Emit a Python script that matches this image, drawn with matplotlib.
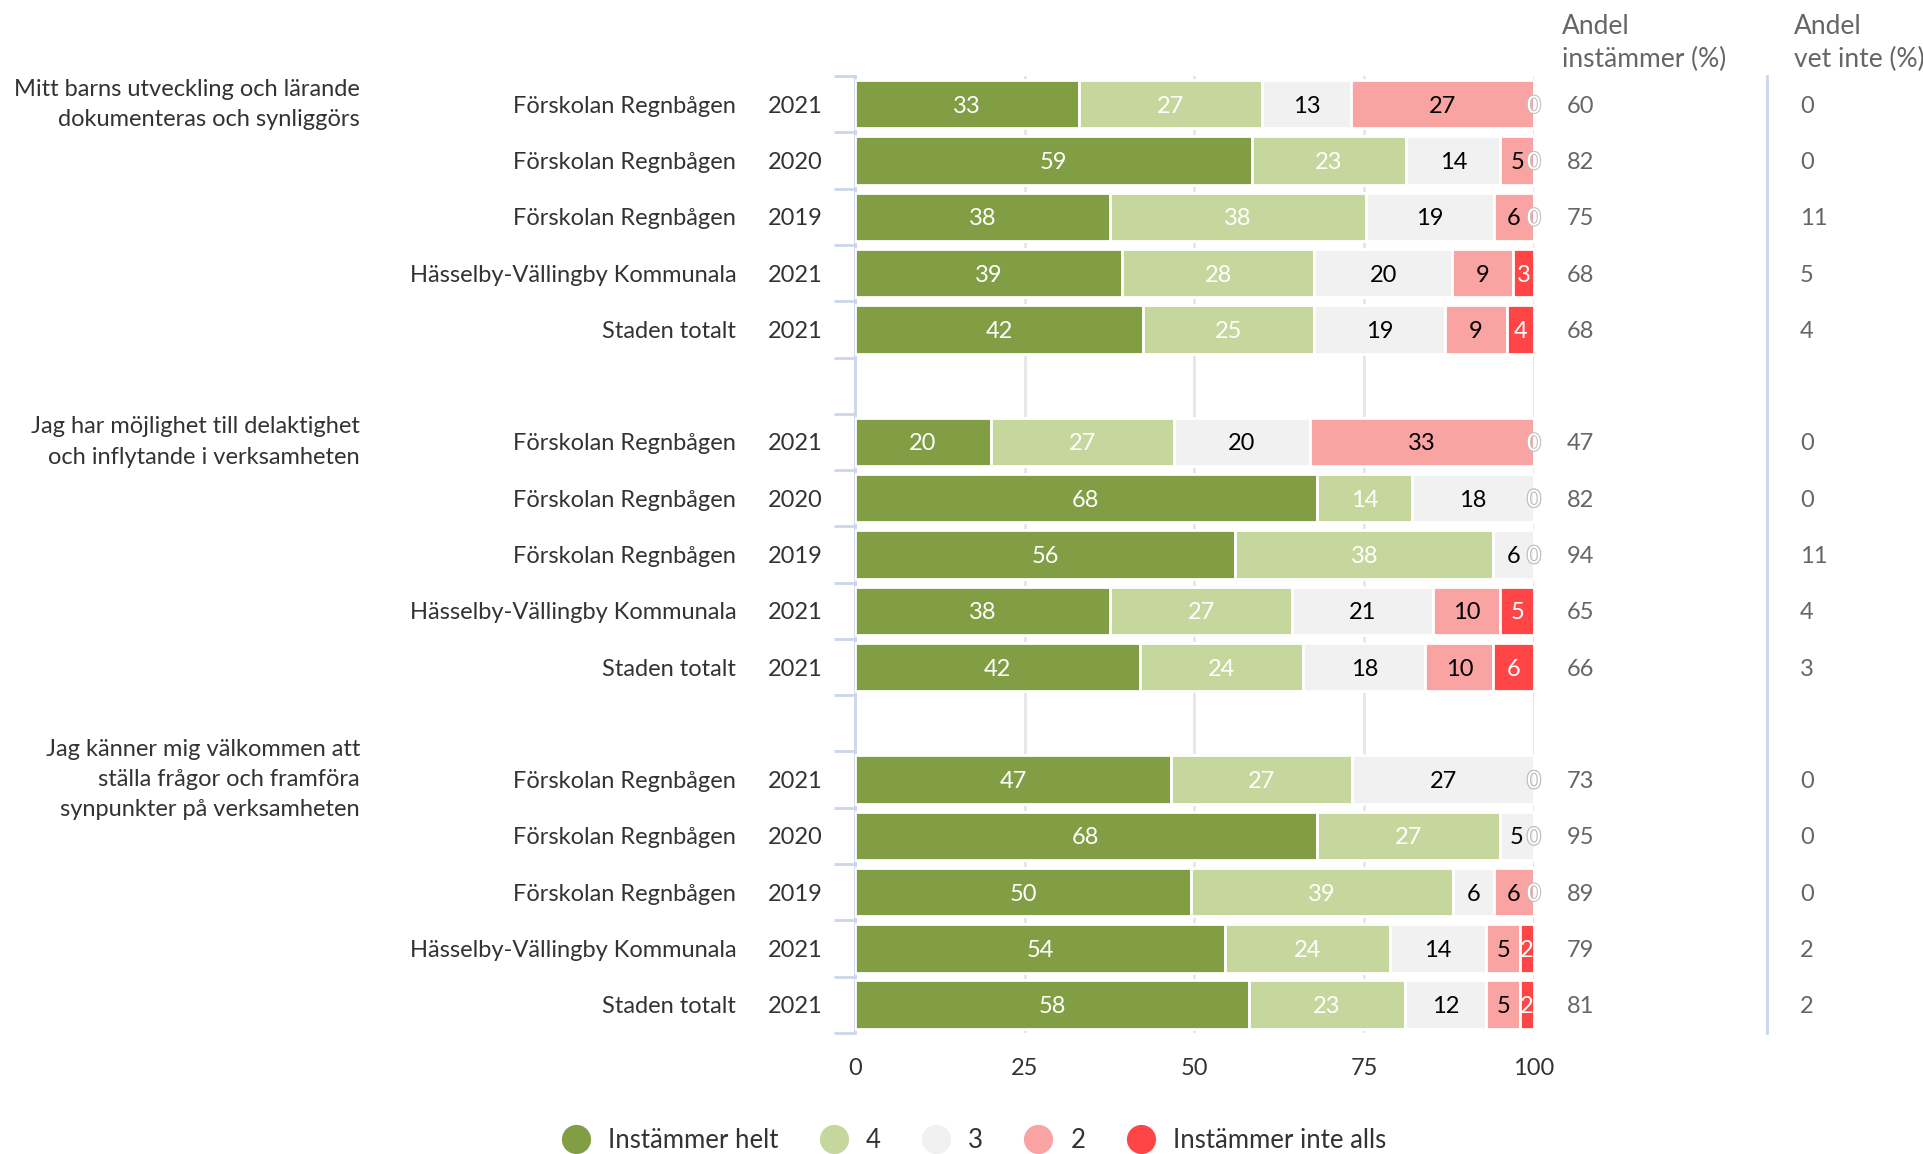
import matplotlib
matplotlib.use("Agg")
from matplotlib import pyplot as plt
from matplotlib import patheffects
import numpy as np

plt.rcParams['font.family'] = ['Lato', 'DejaVu Sans']

# Questions (one group of five rows each)
questions = [
    "Mitt barns utveckling och lärande\ndokumenteras och synliggörs",
    "Jag har möjlighet till delaktighet\noch inflytande i verksamheten",
    "Jag känner mig välkommen att\nställa frågor och framföra\nsynpunkter på verksamheten",
]

units = ["Förskolan Regnbågen", "Förskolan Regnbågen", "Förskolan Regnbågen",
         "Hässelby-Vällingby Kommunala", "Staden totalt"]
years = ["2021", "2020", "2019", "2021", "2021"]

series_names = ["Instämmer helt", "4", "3", "2", "Instämmer inte alls"]
colors = ["#829e45", "#c5d79c", "#f1f1f1", "#f9a3a3", "#ff4545"]
text_colors = ["white", "white", "black", "black", "white"]

# values per group: rows x [Instämmer helt, 4, 3, 2, Instämmer inte alls]
values_q1 = [[33, 27, 13, 27, 0],
             [59, 23, 14, 5, 0],
             [38, 38, 19, 6, 0],
             [39, 28, 20, 9, 3],
             [42, 25, 19, 9, 4]]
values_q2 = [[20, 27, 20, 33, 0],
             [68, 14, 18, 0, 0],
             [56, 38, 6, 0, 0],
             [38, 27, 21, 10, 5],
             [42, 24, 18, 10, 6]]
values_q3 = [[47, 27, 27, 0, 0],
             [68, 27, 5, 0, 0],
             [50, 39, 6, 6, 0],
             [54, 24, 14, 5, 2],
             [58, 23, 12, 5, 2]]

andel_instammer = [[60, 82, 75, 68, 68], [47, 82, 94, 65, 66], [73, 95, 89, 79, 81]]
andel_vet_inte = [[0, 0, 11, 5, 4], [0, 0, 11, 4, 3], [0, 0, 0, 2, 2]]

groups = [values_q1, values_q2, values_q3]

fig = plt.figure(figsize=(19.23, 11.54), dpi=100)
ax = fig.add_axes([0.4446, 0.105, 0.3531, 0.829])

label_color = "#333333"
gray_text = "#666666"
fs = 17
va = "center_baseline"

tr = matplotlib.transforms.blended_transform_factory(ax.transAxes, ax.transData)

for g, vals in enumerate(groups):
    vals = np.array(vals, dtype=float)
    # percent stacking: each row fills the full 0-100 width
    widths = vals / vals.sum(axis=1, keepdims=True) * 100
    y0 = g * 6
    ypos = y0 + np.arange(len(vals))
    left = np.zeros(len(vals))
    for s in range(len(series_names)):
        ax.barh(ypos, widths[:, s], left=left, height=0.86, color=colors[s],
                edgecolor="white", linewidth=2,
                label=series_names[s] if g == 0 else None, zorder=3)
        for i in range(len(vals)):
            v = vals[i, s]
            if v > 0:
                ax.text(left[i] + widths[i, s] / 2, ypos[i], f"{v:.0f}", ha="center", va=va,
                        color=text_colors[s], fontsize=fs, zorder=5)
            else:
                ax.text(left[i], ypos[i], "0", ha="center", va=va,
                        color="white", fontsize=fs, zorder=5, clip_on=False,
                        path_effects=[patheffects.withStroke(linewidth=1.6, foreground="#c0c0c0")])
        left += widths[:, s]

    # question text, centred on the group's first row
    ax.text(-0.729, y0, questions[g], transform=tr, ha="right", va="center",
            fontsize=fs, color=label_color, linespacing=1.55)
    for i in range(len(vals)):
        ax.text(-0.175, ypos[i], units[i], transform=tr, ha="right", va=va,
                fontsize=fs, color=label_color)
        ax.text(-0.048, ypos[i], years[i], transform=tr, ha="right", va=va,
                fontsize=fs, color=label_color)
        ax.text(1.0486, ypos[i], str(andel_instammer[g][i]), transform=tr, ha="left",
                va=va, fontsize=fs, color=gray_text)
        ax.text(1.392, ypos[i], str(andel_vet_inte[g][i]), transform=tr, ha="left",
                va=va, fontsize=fs, color=gray_text)

# column headers
hfs = 19
fig.text(1562 / 1923, 1 - 27 / 1154, "Andel", ha="left", va="center", fontsize=hfs, color=gray_text)
fig.text(1562 / 1923, 1 - 59 / 1154, "instämmer (%)", ha="left", va="center", fontsize=hfs, color=gray_text)
fig.text(1794 / 1923, 1 - 27 / 1154, "Andel", ha="left", va="center", fontsize=hfs, color=gray_text)
fig.text(1794 / 1923, 1 - 59 / 1154, "vet inte (%)", ha="left", va="center", fontsize=hfs, color=gray_text)

# separator between the two columns
ax.plot([1.343, 1.343], [0, 1], transform=ax.transAxes, color="#ccd6eb",
        linewidth=2, clip_on=False)

ax.set_xlim(0, 100)
ax.set_ylim(16.5, -0.5)
ax.set_xticks([0, 25, 50, 75, 100])
ax.tick_params(axis="x", length=0, labelsize=fs, labelcolor=label_color, pad=18)
ax.xaxis.grid(True, color="#e6e6e6", linewidth=2, zorder=0)
ax.set_axisbelow(True)

ax.set_yticks([])
ax.set_yticks(np.arange(-0.5, 17, 1), minor=True)
ax.tick_params(axis="y", which="minor", length=15, width=2, color="#ccd6eb")
ax.tick_params(axis="y", which="major", length=0)

for side in ["top", "right", "bottom"]:
    ax.spines[side].set_visible(False)
ax.spines["left"].set_color("#ccd6eb")
ax.spines["left"].set_linewidth(2)

handles = [plt.Line2D([], [], marker="o", linestyle="", markersize=20,
                      markerfacecolor=c, markeredgecolor=c) for c in colors]
fig.legend(handles, series_names, loc="center", bbox_to_anchor=(0.5035, 1 - 1140 / 1154),
           ncol=5, frameon=False, fontsize=18.5, handletextpad=0.25, columnspacing=1.15,
           labelcolor="#333333")

fig.savefig("out.png", dpi=100)
